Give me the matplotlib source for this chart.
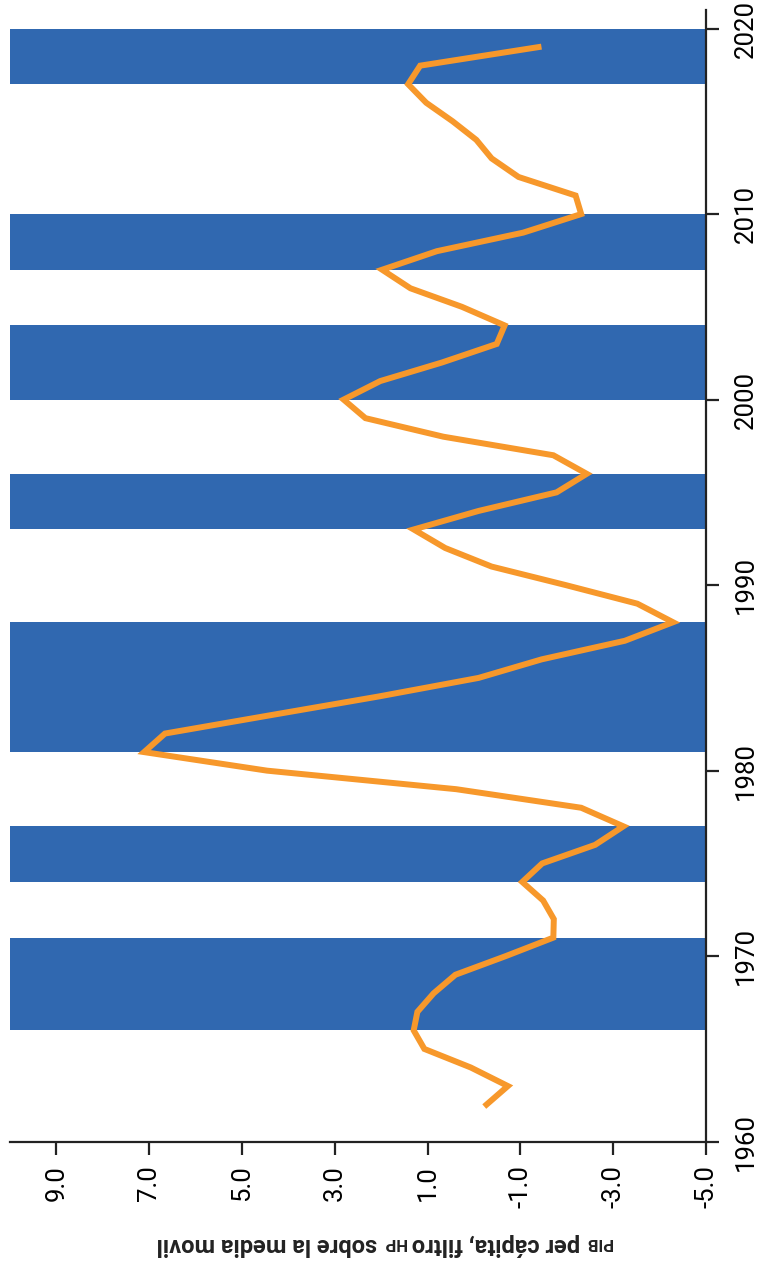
import numpy as np
import matplotlib
matplotlib.use("Agg")
import matplotlib.pyplot as plt
from matplotlib import font_manager

# datos
years = list(range(1962, 2020))
pib_hp = [-0.27, -0.73, 0.07, 1.07, 1.30, 1.22, 0.87, 0.40, -0.68, -1.71,
          -1.72, -1.49, -1.04, -1.47, -2.61, -3.22, -2.31, 0.38, 4.46, 7.11,
          6.66, 4.36, 2.05, -0.10, -1.46, -3.25, -4.29, -3.52, -1.98, -0.38,
          0.62, 1.30, -0.10, -1.78, -2.43, -1.71, 0.66, 2.34, 2.81, 2.02,
          0.69, -0.49, -0.66, 0.26, 1.37, 1.98, 0.80, -1.06, -2.31, -2.19,
          -0.96, -0.38, -0.05, 0.46, 1.03, 1.42, 1.16, -1.39]
rec_start = [1966, 1974, 1981, 1993, 2000, 2007, 2017]
rec_end = [1971, 1977, 1988, 1996, 2004, 2010, 2020]
val_ticks = [9.0, 7.0, 5.0, 3.0, 1.0, -1.0, -3.0, -5.0]
year_ticks = [1960, 1970, 1980, 1990, 2000, 2010, 2020]

names = {f.name for f in font_manager.fontManager.ttflist}
fam = "Liberation Sans Narrow" if "Liberation Sans Narrow" in names else "Roboto"
plt.rcParams['font.family'] = [fam, 'DejaVu Sans']

W, H = 759, 1282
fig = plt.figure(figsize=(W / 100, H / 100), dpi=100)
ax = fig.add_axes([10 / W, (H - 1141.7) / H, 696 / W, 1131.7 / H])

blue = '#3068B0'
orange = '#F7982B'

# franjas (eje de años vertical)
for s, e in zip(rec_start, rec_end):
    ax.barh(s, 10 - (-5), height=e - s, left=-5, align='edge', color=blue, zorder=1)

ax.plot(pib_hp, years, color=orange, lw=4.3, zorder=3, solid_joinstyle='miter')

ax.set_xlim(10, -5)
ax.set_ylim(1960, 2021)

for sp in ['top', 'left']:
    ax.spines[sp].set_visible(False)
for sp in ['bottom', 'right']:
    ax.spines[sp].set_linewidth(1.6)
    ax.spines[sp].set_color('#222222')

ax.yaxis.tick_right()
ax.set_yticks(year_ticks)
ax.set_yticklabels([str(y) for y in year_ticks], rotation=90, va='center')
ax.set_xticks(val_ticks)
ax.set_xticklabels([f"{v:.1f}" for v in val_ticks], rotation=90, ha='center')
ax.tick_params(axis='both', direction='out', length=9, width=1.6, color='#222222',
               labelsize=18.5, pad=8)
ax.tick_params(axis='y', pad=11)

# etiqueta del eje (al revés, con versalitas)
pieces = [("PIB", 12), (" per cápita, filtro ", 17), ("HP", 12), (" sobre la media movil", 17)]
fig.canvas.draw()
r = fig.canvas.get_renderer()
x = 612
for txt, fs in pieces:
    t = fig.text(x / W, 1 - 1238 / H, txt, fontsize=fs, fontweight='bold', rotation=180,
                 rotation_mode='anchor', ha='left', va='baseline', color='#222222')
    bb = t.get_window_extent(renderer=r)
    x -= bb.width

fig.savefig('out.png', dpi=100)
